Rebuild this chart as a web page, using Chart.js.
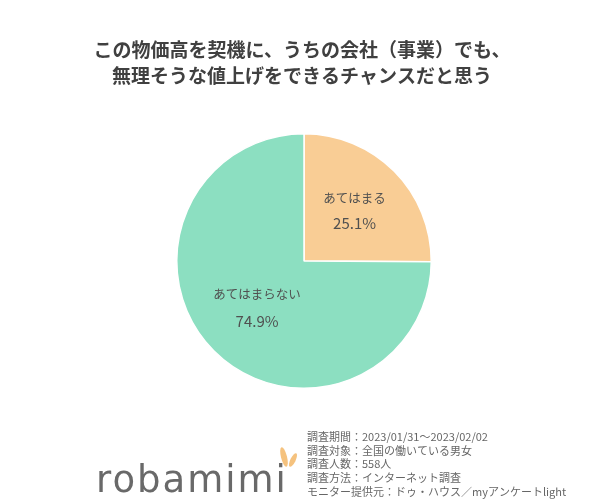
<!DOCTYPE html>
<html lang="ja">
<head>
<meta charset="utf-8">
<script src="https://cdn.jsdelivr.net/npm/chart.js@4/dist/chart.umd.min.js"></script>
<style>
  html, body { margin: 0; padding: 0; background: #fff; }
  #wrap { width: 600px; height: 504px; position: relative; }
</style>
</head>
<body>
<div id="wrap"><canvas id="pieChart"></canvas></div>
<script>
// 回答カテゴリと割合(%)
const categories = ['あてはまる', 'あてはまらない'];
const shares = [25.1, 74.9];
const sliceColors = ['#f9cd95', '#8cdfc1'];

const titleLines = [
  'この物価高を契機に、うちの会社（事業）でも、',
  '無理そうな値上げをできるチャンスだと思う'
];
const footerLines = [
  '調査期間：2023/01/31～2023/02/02',
  '調査対象：全国の働いている男女',
  '調査人数：558人',
  '調査方法：インターネット調査',
  'モニター提供元：ドゥ・ハウス／myアンケートlight'
];

const JP_FONT = '"Noto Sans CJK JP", "Noto Sans", sans-serif';

// スライス内のラベル
const sliceLabels = {
  id: 'sliceLabels',
  afterDatasetsDraw(chart) {
    const ctx = chart.ctx;
    const meta = chart.getDatasetMeta(0);
    ctx.save();
    ctx.fillStyle = '#505050';
    ctx.textAlign = 'center';
    ctx.textBaseline = 'middle';
    meta.data.forEach((arc, i) => {
      const mid = (arc.startAngle + arc.endAngle) / 2;
      const r = arc.outerRadius * (i === 0 ? 0.56 : 0.52);
      const x = arc.x + Math.cos(mid) * r;
      const y = arc.y + Math.sin(mid) * r;
      const gap = i === 0 ? 12.5 : 13.5;
      ctx.font = '12.5px ' + JP_FONT;
      ctx.fillText(categories[i], x, y - gap);
      ctx.font = '15px ' + JP_FONT;
      ctx.fillText(shares[i].toFixed(1) + '%', x, y + gap);
    });
    ctx.restore();
  }
};

// タイトル・調査概要・ロゴ
const decorPlugin = {
  id: 'decorPlugin',
  afterDraw(chart) {
    const ctx = chart.ctx;
    ctx.save();
    ctx.fillStyle = '#404040';
    ctx.font = 'bold 19px ' + JP_FONT;
    ctx.textAlign = 'center';
    ctx.textBaseline = 'middle';
    titleLines.forEach((t, i) => ctx.fillText(t, 302, 50 + i * 26));

    ctx.fillStyle = '#666';
    ctx.font = '11px ' + JP_FONT;
    ctx.textAlign = 'left';
    footerLines.forEach((t, i) => ctx.fillText(t, 307, 437 + i * 13.6));

    // ロゴ
    ctx.fillStyle = '#696969';
    ctx.font = '37px "DejaVu Sans", sans-serif';
    ctx.textBaseline = 'alphabetic';
    ctx.letterSpacing = '2px';
    ctx.fillText('robamimi', 96, 492);
    ctx.letterSpacing = '0px';
    ctx.fillStyle = '#f5c27e';
    ctx.beginPath();
    ctx.ellipse(284, 457, 3, 10, -0.25, 0, Math.PI * 2);
    ctx.fill();
    ctx.beginPath();
    ctx.ellipse(293, 460, 2.6, 7.5, 0.45, 0, Math.PI * 2);
    ctx.fill();
    ctx.restore();
  }
};

new Chart(document.getElementById('pieChart'), {
  type: 'pie',
  data: {
    labels: categories,
    datasets: [{
      data: shares,
      backgroundColor: sliceColors,
      borderColor: '#ffffff',
      borderWidth: 1.5
    }]
  },
  options: {
    responsive: true,
    maintainAspectRatio: false,
    animation: false,
    layout: { padding: { left: 176, right: 168, bottom: 115, top: 133 } },
    plugins: {
      legend: { display: false },
      tooltip: { enabled: false },
      title: { display: false }
    }
  },
  plugins: [sliceLabels, decorPlugin]
});
</script>
</body>
</html>
